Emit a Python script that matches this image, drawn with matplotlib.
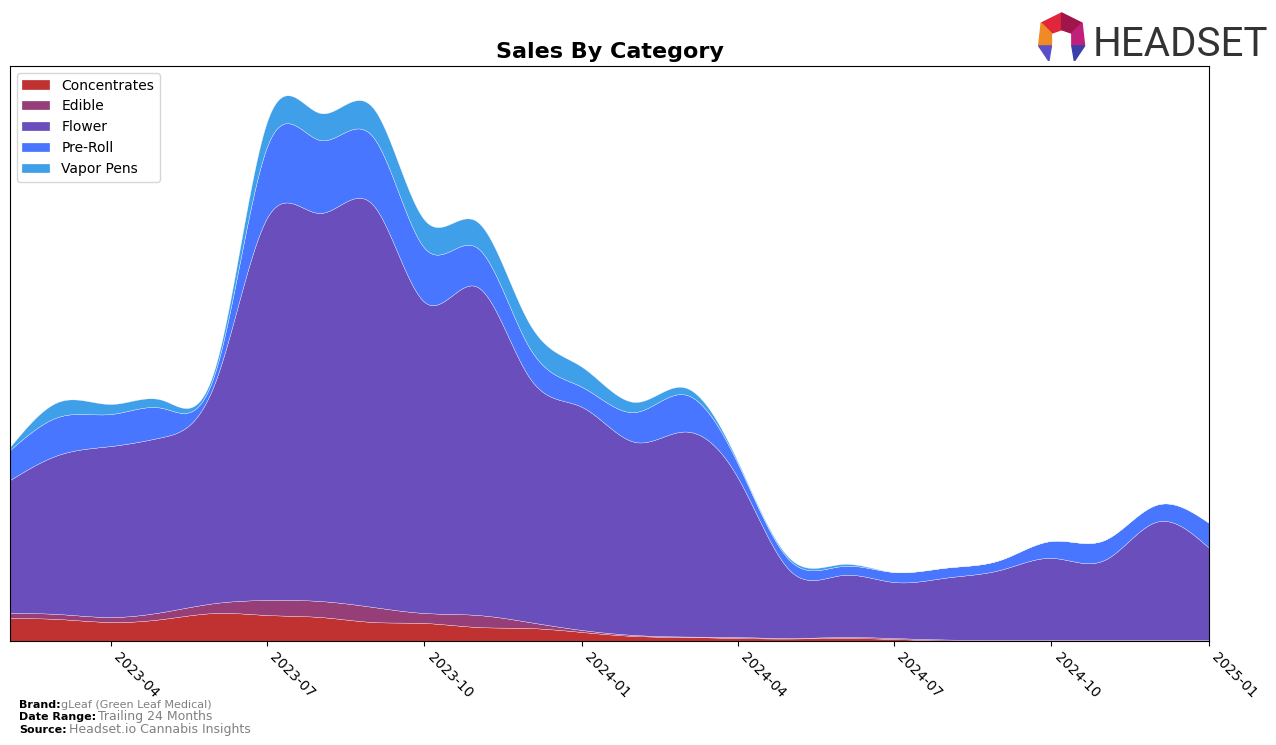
import numpy as np
import pandas as pd
import matplotlib
matplotlib.use("Agg")
import matplotlib.pyplot as plt
from matplotlib.patches import Polygon

months = pd.date_range("2023-02-01", "2025-01-01", freq="MS")
categories = ["Concentrates", "Edible", "Flower", "Pre-Roll", "Vapor Pens"]
colors = ["#c03232", "#963e78", "#694ebc", "#4876ff", "#3f9fe8"]

concentrates = [23, 22, 19, 22, 28, 26, 24, 19, 18, 14, 13, 9,
                5, 4, 3, 2.5, 3, 2, 0.5, 0.3, 0.3, 0.3, 0.3, 0.3]
edible = [5, 5, 5, 7, 10, 15, 16, 15, 10, 12, 6, 2,
          1, 0.5, 1, 0.5, 1, 1, 1, 0.8, 0.8, 0.8, 0.8, 0.8]
flower = [133, 159, 171, 175, 222, 382, 388, 402, 311, 328, 245, 223,
          193, 205, 159, 68, 62, 56, 62, 70, 82, 80, 118, 92]
pre_roll = [30, 38, 32, 29, 10, 71, 73, 68, 54, 39, 30, 20,
            30, 37, 14, 10, 9, 10, 10, 10, 17, 20, 17, 25]
vapor_pens = [3, 15, 10, 8, 5, 25, 27, 29, 28, 26, 24, 20,
              10, 7, 2, 2, 2, 0, 0, 0, 0, 0, 0, 0]


def natural_spline(x, y, xs):
    # plain natural cubic spline, used only to draw smooth outlines
    x = np.asarray(x, float)
    y = np.asarray(y, float)
    n = len(x)
    h = np.diff(x)
    A = np.zeros((n, n))
    b = np.zeros(n)
    A[0, 0] = A[-1, -1] = 1
    for i in range(1, n - 1):
        A[i, i - 1] = h[i - 1]
        A[i, i] = 2 * (h[i - 1] + h[i])
        A[i, i + 1] = h[i]
        b[i] = 3 * ((y[i + 1] - y[i]) / h[i] - (y[i] - y[i - 1]) / h[i - 1])
    c = np.linalg.solve(A, b)
    idx = np.clip(np.searchsorted(x, xs) - 1, 0, n - 2)
    dx = xs - x[idx]
    bb = (y[idx + 1] - y[idx]) / h[idx] - h[idx] * (2 * c[idx] + c[idx + 1]) / 3
    d = (c[idx + 1] - c[idx]) / (3 * h[idx])
    return y[idx] + bb * dx + c[idx] * dx ** 2 + d * dx ** 3


x_num = matplotlib.dates.date2num(months)
xs = np.linspace(x_num[0], x_num[-1], 800)
series = [concentrates, edible, flower, pre_roll, vapor_pens]
smooth = [np.clip(natural_spline(x_num, s, xs), 0, None) for s in series]

fig = plt.figure(figsize=(12.76, 7.45), dpi=100)
ax = fig.add_axes([0.0078, 0.1396, 0.9397, 0.7718])
ax.stackplot(matplotlib.dates.num2date(xs), *smooth, labels=categories,
             colors=colors, edgecolor="white", linewidth=0.2)
ax.set_xlim(months[0], months[-1])
ax.set_ylim(0, 575)
ax.set_yticks([])
ax.xaxis.set_major_locator(matplotlib.dates.MonthLocator(bymonth=[1, 4, 7, 10]))
ax.xaxis.set_major_formatter(matplotlib.dates.DateFormatter("%Y-%m"))
plt.setp(ax.get_xticklabels(), rotation=-45, ha="left", fontsize=10)
ax.set_title("Sales By Category", fontsize=16, fontweight="bold")
ax.legend(loc="upper left", fontsize=10)

# footer
fig.text(0.015, 0.050, "Brand:", fontsize=8, fontweight="bold")
fig.text(0.048, 0.050, "gLeaf (Green Leaf Medical)", fontsize=8, color="gray")
fig.text(0.015, 0.033, "Date Range:", fontsize=8, fontweight="bold")
fig.text(0.077, 0.033, "Trailing 24 Months", fontsize=9, color="gray")
fig.text(0.015, 0.016, "Source:", fontsize=8, fontweight="bold")
fig.text(0.054, 0.016, "Headset.io Cannabis Insights", fontsize=9, color="gray")

# logo
lax = fig.add_axes([0.812, 0.918, 0.04, 0.068])
lax.set_xlim(0, 1)
lax.set_ylim(0, 1)
lax.axis("off")
pieces = [
    ([(0.1, 0.75), (0.5, 0.95), (0.5, 0.62), (0.3, 0.55)], "#e0263a"),
    ([(0.5, 0.95), (0.9, 0.75), (0.7, 0.55), (0.5, 0.62)], "#a0164a"),
    ([(0.1, 0.75), (0.3, 0.55), (0.3, 0.3), (0.05, 0.3)], "#f08a24"),
    ([(0.9, 0.75), (0.95, 0.3), (0.7, 0.3), (0.7, 0.55)], "#c01f7a"),
    ([(0.05, 0.3), (0.3, 0.3), (0.25, 0.0)], "#5b4fc8"),
    ([(0.7, 0.3), (0.95, 0.3), (0.75, 0.0)], "#3b3faa"),
]
for pts, c in pieces:
    lax.add_patch(Polygon(pts, closed=True, color=c))
fig.text(0.856, 0.925, "HEADSET", fontsize=29, color="#333333",
         family=["Roboto", "DejaVu Sans"])

fig.savefig("out.png", dpi=100)
